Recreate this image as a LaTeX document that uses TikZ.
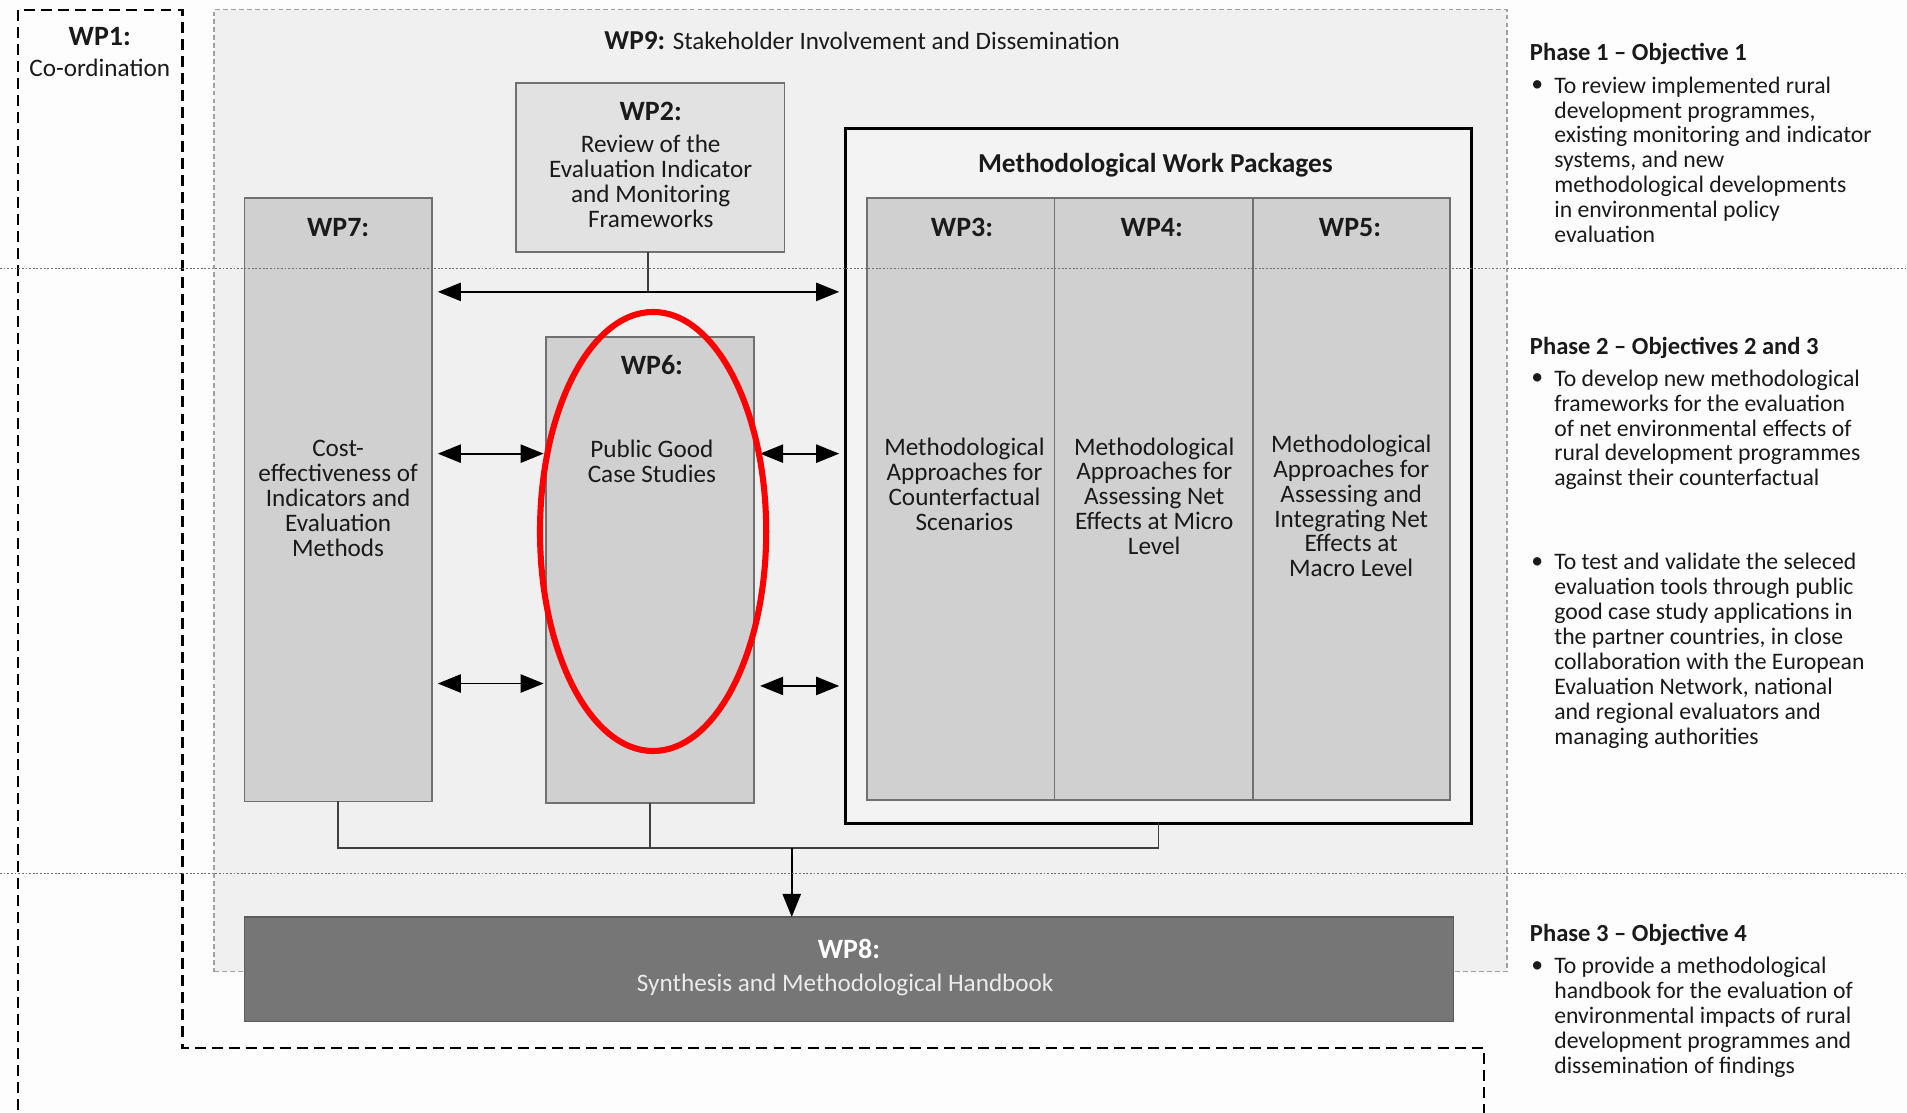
\documentclass[tikz,border=0pt]{standalone}
\usepackage{fontspec}
\setmainfont{Carlito}
\usetikzlibrary{arrows.meta,shapes.geometric}
\definecolor{pagebg}{HTML}{FDFDFD}
\definecolor{wpninefill}{HTML}{F0F0F0}
\definecolor{wpnineline}{HTML}{A0A0A0}
\definecolor{boxfill}{HTML}{D0D0D0}
\definecolor{boxline}{HTML}{707070}
\definecolor{wptwofill}{HTML}{E2E2E2}
\definecolor{methfill}{HTML}{F3F3F3}
\definecolor{darkfill}{HTML}{767676}
\definecolor{darkline}{HTML}{5C5C5C}
\definecolor{txt}{HTML}{1A1A1A}
\definecolor{hlred}{HTML}{FF0000}
\definecolor{phaseline}{HTML}{707070}
\definecolor{connline}{HTML}{404040}
\begin{document}
\begin{tikzpicture}[x=1pt,y=-1pt,
  every node/.style={inner sep=0pt, outer sep=0pt, text=txt},
  box/.style={draw=boxline, line width=1.4pt, fill=boxfill, anchor=north west},
  body/.style={font=\fontsize{20.7}{20.5}\selectfont, align=center},
  head/.style={font=\fontsize{23}{24}\selectfont\bfseries},
  side/.style={font=\fontsize{19.5}{20.5}\selectfont, align=left, anchor=north west},
  sidehead/.style={font=\fontsize{20.2}{22}\selectfont\bfseries, anchor=west},
  bul/.style={font=\fontsize{19.5}{20.5}\selectfont},
  dbl/.style={{Triangle[length=19pt,width=15pt]}-{Triangle[length=19pt,width=15pt]}, line width=1.6pt, draw=black},
  arr/.style={-{Triangle[length=19pt,width=15pt]}, line width=1.6pt, draw=black},
  conn/.style={line width=1.4pt, draw=connline},
  wponedash/.style={draw=black, line width=1.8pt, dash pattern=on 9pt off 5pt},
  phasesep/.style={draw=phaseline, line width=1pt, dash pattern=on 1.5pt off 1.5pt}
]
\useasboundingbox[fill=pagebg] (0,0) rectangle (1568,915);

% WP1 outline
\draw[wponedash] (15,913) -- (15,8) -- (150,8) -- (150,862) -- (1220,862) -- (1220,915);

% WP9 area
\node[draw=wpnineline, dash pattern=on 4pt off 2.5pt, line width=1.2pt, fill=wpninefill,
  anchor=north west, minimum width=1063pt, minimum height=791pt] (wp9) at (176,8) {};

% boxes
\node[box, fill=wptwofill, minimum width=221pt, minimum height=139pt] (wp2) at (424,68) {};
\node[box, minimum width=154pt, minimum height=496pt] (wp7) at (201,163) {};
\node[box, minimum width=171pt, minimum height=383pt] (wp6) at (449,277) {};
\node[draw=black, line width=2.6pt, fill=methfill, anchor=north west,
  minimum width=515pt, minimum height=571pt] (meth) at (695,106) {};
\node[box, minimum width=154pt, minimum height=495pt] (wp3) at (713,163) {};
\node[box, minimum width=163pt, minimum height=495pt] (wp4) at (867,163) {};
\node[box, minimum width=162pt, minimum height=495pt] (wp5) at (1030,163) {};

% connectors
\coordinate (hub) at (533,240);
\draw[conn] (wp2.south -| hub) -- (hub);
\draw[dbl, shorten <=5pt, shorten >=5pt] (wp7.east |- hub) -- (meth.west |- hub);
\coordinate (rowa) at (400,373);
\coordinate (rowb) at (400,562);
\coordinate (rowc) at (400,564);
\draw[dbl, shorten <=5pt, shorten >=2pt] (wp7.east |- rowa) -- (wp6.west |- rowa);
\draw[dbl, shorten <=5pt, shorten >=5pt] (wp6.east |- rowa) -- (meth.west |- rowa);
\draw[dbl, shorten <=5pt, shorten >=2pt] (wp7.east |- rowb) -- (wp6.west |- rowb);
\draw[dbl, shorten <=5pt, shorten >=5pt] (wp6.east |- rowc) -- (meth.west |- rowc);
\coordinate (bus) at (651,697);
\draw[conn] (wp7.south) -- (wp7.south |- bus) -- (meth.south |- bus) -- (meth.south);
\draw[conn] (wp6.south) -- (wp6.south |- bus);

% WP8
\node[draw=darkline, line width=1.4pt, fill=darkfill, anchor=north west,
  minimum width=994pt, minimum height=86pt] (wp8) at (201,754) {};
\draw[arr] (bus) -- (bus |- wp8.north);

% highlight
\node[draw=hlred, line width=5pt, ellipse, minimum width=186pt, minimum height=361pt] (hl) at (537,437) {};

% texts
\node[head] (wp1t) at (82,30) {WP1:};
\node[body] (wp1b) at (82,56) {Co-ordination};
\node[anchor=west, font=\fontsize{20.6}{22}\selectfont] (wp9t) at (497,33) {{\fontsize{22.5}{22}\selectfont\bfseries WP9:} Stakeholder Involvement and Dissemination};
\node[head] (wp2t) at (535,92) {WP2:};
\node[body] (wp2b) at (535,149) {Review of the\\Evaluation Indicator\\and Monitoring\\Frameworks};
\node[head] (wp7t) at (278,187) {WP7:};
\node[body] (wp7b) at (278,410) {Cost-\\effectiveness of\\Indicators and\\Evaluation\\Methods};
\node[head] (wp6t) at (536,300) {WP6:};
\node[body] (wp6b) at (536,379) {Public Good\\Case Studies};
\node[head, font=\fontsize{22.5}{24}\selectfont\bfseries] (metht) at (950,136) {Methodological Work Packages};
\node[head] (wp3t) at (791,187) {WP3:};
\node[body] (wp3b) at (793,398) {Methodological\\Approaches for\\Counterfactual\\Scenarios};
\node[head] (wp4t) at (947,187) {WP4:};
\node[body] (wp4b) at (949,408) {Methodological\\Approaches for\\Assessing Net\\Effects at Micro\\Level};
\node[head] (wp5t) at (1110,187) {WP5:};
\node[body] (wp5b) at (1111,416) {Methodological\\Approaches for\\Assessing and\\Integrating Net\\Effects at\\Macro Level};
\node[head, text=white] (wp8t) at (698,780) {WP8:};
\node[body, text=white!92!black] (wp8b) at (695,810) {Synthesis and Methodological Handbook};

% side column
\node[sidehead] (ph1) at (1258,44) {Phase 1 – Objective 1};
\node[bul] (b1) at (1264,71) {•};
\node[side] (t1) at (1278,63) {To review implemented rural\\development programmes,\\existing monitoring and indicator\\systems, and new\\methodological developments\\in environmental policy\\evaluation};
\node[sidehead] (ph2) at (1258,286) {Phase 2 – Objectives 2 and 3};
\node[bul] (b2) at (1264,312) {•};
\node[side] (t2) at (1278,304) {To develop new methodological\\frameworks for the evaluation\\of net environmental effects of\\rural development programmes\\against their counterfactual};
\node[bul] (b3) at (1264,463) {•};
\node[side] (t3) at (1278,455) {To test and validate the seleced\\evaluation tools through public\\good case study applications in\\the partner countries, in close\\collaboration with the European\\Evaluation Network, national\\and regional evaluators and\\managing authorities};
\node[sidehead] (ph3) at (1258,769) {Phase 3 – Objective 4};
\node[bul] (b4) at (1264,795) {•};
\node[side] (t4) at (1278,787) {To provide a methodological\\handbook for the evaluation of\\environmental impacts of rural\\development programmes and\\dissemination of findings};

% phase separators
\draw[phasesep] (0,221) -- (1568,221);
\draw[phasesep] (0,718) -- (1568,718);
\end{tikzpicture}
\end{document}
